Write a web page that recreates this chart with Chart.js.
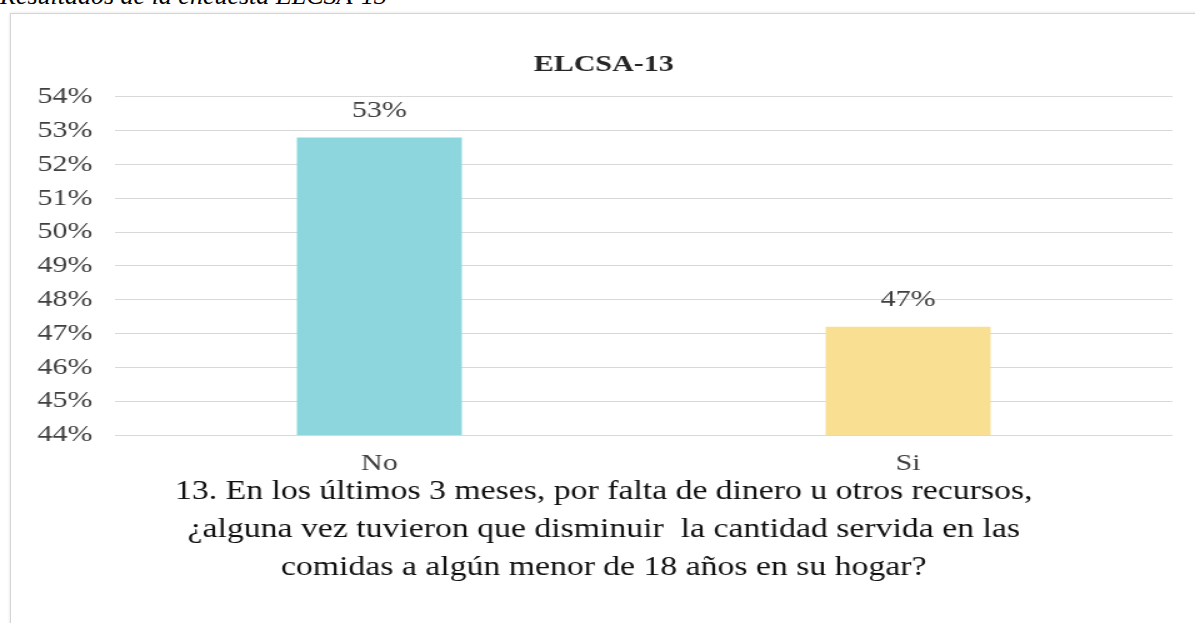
<!DOCTYPE html>
<html>
<head>
<meta charset="utf-8">
<script src="https://cdn.jsdelivr.net/npm/chart.js@4.4.0/dist/chart.umd.min.js"></script>
<style>
    html, body { margin: 0; padding: 0; background: #fff; overflow: hidden; }
    body { width: 1195px; height: 623px; position: relative; font-family: 'Liberation Serif', 'Times New Roman', serif; }
    .caption { position: absolute; left: 0; top: -17px; font-size: 26px; font-style: italic; line-height: 26px; color: #000; white-space: nowrap; }
    .frame { position: absolute; left: 10px; top: 13px; width: 1190px; height: 620px; border: 1px solid #d4d4d4; box-shadow: 0 0 3px rgba(0,0,0,0.12); }
    /* the original chart image is stretched sideways, so the canvas is too */
    .chart-wrap { position: absolute; left: 10px; top: 0; width: 948px; height: 623px; transform: scaleX(1.25); transform-origin: 0 0; }
</style>
</head>
<body>
<div class="caption">Resultados de la encuesta ELCSA-13</div>
<div class="frame"></div>
<div class="chart-wrap"><canvas id="elcsaChart" width="948" height="623"></canvas></div>
<script>
// Chart data
const categories = ['No', 'Si'];
const percentValues = [52.8, 47.2];
const barColors = ['#8dd6de', '#f9df91'];
const yTicks = [44, 45, 46, 47, 48, 49, 50, 51, 52, 53, 54];
const chartTitle = 'ELCSA-13';
const questionLines = [
    '13. En los últimos 3 meses, por falta de dinero u otros recursos,',
    '¿alguna vez tuvieron que disminuir  la cantidad servida en las',
    'comidas a algún menor de 18 años en su hogar?'
];

const serif = "'Liberation Serif', 'Times New Roman', serif";

// Percent labels above each bar
const barLabels = {
    id: 'barLabels',
    afterDatasetsDraw(chart) {
        const ctx = chart.ctx;
        const meta = chart.getDatasetMeta(0);
        ctx.save();
        ctx.font = '24px ' + serif;
        ctx.fillStyle = '#404040';
        ctx.textAlign = 'center';
        ctx.textBaseline = 'middle';
        meta.data.forEach((bar, i) => {
            ctx.fillText(Math.round(percentValues[i]) + '%', bar.x, bar.y - 27);
        });
        ctx.restore();
    }
};

const ctx = document.getElementById('elcsaChart');
new Chart(ctx.getContext('2d'), {
    type: 'bar',
    data: {
        labels: categories,
        datasets: [{
            data: percentValues,
            backgroundColor: barColors,
            borderWidth: 0,
            categoryPercentage: 1,
            barPercentage: 0.312
        }]
    },
    options: {
        responsive: false,
        animation: false,
        layout: { padding: { left: 20, right: 18, top: 0, bottom: 0 } },
        plugins: {
            legend: { display: false },
            tooltip: { enabled: false },
            title: {
                display: true,
                text: chartTitle,
                color: '#262626',
                font: { family: serif, size: 24, weight: 'bold', lineHeight: 1.2 },
                padding: { top: 50, bottom: 18 }
            },
            subtitle: {
                display: true,
                position: 'bottom',
                text: questionLines,
                color: '#111',
                font: { family: serif, size: 27, lineHeight: 38 / 27 },
                // pulled up under the category labels, like the original
                padding: { top: -14, bottom: 36 }
            }
        },
        scales: {
            x: {
                grid: { display: false },
                border: { display: false },
                afterFit: function(scale) {
                    scale.height = 52;
                },
                ticks: {
                    color: '#404040',
                    font: { family: serif, size: 24, lineHeight: 0.5 },
                    padding: 15
                }
            },
            y: {
                min: yTicks[0],
                max: yTicks[yTicks.length - 1],
                afterBuildTicks: function(scale) {
                    scale.ticks = yTicks.map(v => ({ value: v }));
                },
                afterFit: function(scale) {
                    scale.width = 64;
                },
                grid: { color: '#d9d9d9', lineWidth: 1, drawTicks: false },
                border: { display: false },
                ticks: {
                    autoSkip: false,
                    color: '#404040',
                    font: { family: serif, size: 24, lineHeight: 1 },
                    padding: 18,
                    callback: function(value) {
                        return value + '%';
                    }
                }
            }
        }
    },
    plugins: [barLabels]
});
</script>
</body>
</html>
